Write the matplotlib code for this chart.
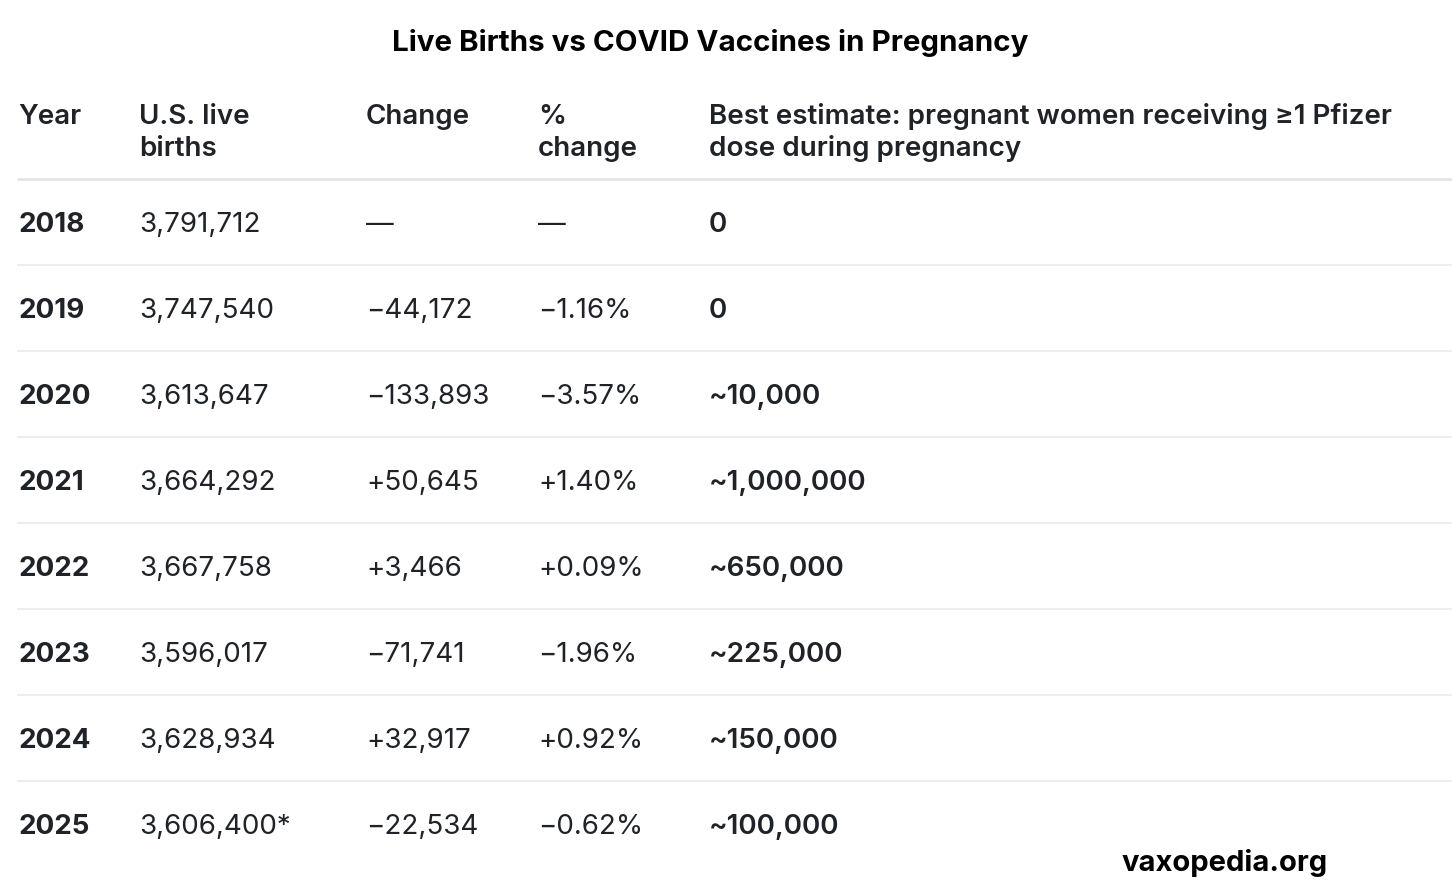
import matplotlib.pyplot as plt

years = ['2018', '2019', '2020', '2021', '2022', '2023', '2024', '2025']
births = ['3,791,712', '3,747,540', '3,613,647', '3,664,292', '3,667,758',
          '3,596,017', '3,628,934', '3,606,400*']
change = ['—', '−44,172', '−133,893', '+50,645', '+3,466', '−71,741',
          '+32,917', '−22,534']
pct_change = ['—', '−1.16%', '−3.57%', '+1.40%', '+0.09%', '−1.96%',
              '+0.92%', '−0.62%']
pfizer_est = ['0', '0', '~10,000', '~1,000,000', '~650,000', '~225,000',
              '~150,000', '~100,000']
headers = ['Year', 'U.S. live\nbirths', 'Change', '%\nchange',
           'Best estimate: pregnant women receiving ≥1 Pfizer\ndose during pregnancy']

plt.rcParams['font.family'] = ['Inter', 'DejaVu Sans']
txt = '#1f2328'

fig = plt.figure(figsize=(14.52, 8.90), dpi=100)
ax = fig.add_axes([0, 0, 1, 1])
ax.set_xlim(0, 1452)
ax.set_ylim(890, 0)
ax.axis('off')

col_x = [18, 139, 366, 538, 709]
fs = 20

ax.text(710, 43, 'Live Births vs COVID Vaccines in Pregnancy', ha='center',
        va='center', fontsize=21.3, fontweight='bold', color='black')

# header, two lines each
for x, h in zip(col_x, headers):
    for j, line in enumerate(h.split('\n')):
        ax.text(x, 117 + j * 32, line, ha='left', va='center', fontsize=fs,
                fontweight='semibold', color=txt)

ax.plot([18, 1452], [179, 179], color='#e3e3e3', lw=1.8)

row_y0, row_h = 225, 86
for i in range(len(years)):
    y = row_y0 + i * row_h
    ax.text(col_x[0], y, years[i], ha='left', va='center', fontsize=fs,
            fontweight='bold', color=txt)
    ax.text(col_x[1], y, births[i], ha='left', va='center', fontsize=fs, color=txt)
    ax.text(col_x[2], y, change[i], ha='left', va='center', fontsize=fs, color=txt)
    ax.text(col_x[3], y, pct_change[i], ha='left', va='center', fontsize=fs, color=txt)
    ax.text(col_x[4], y, pfizer_est[i], ha='left', va='center', fontsize=fs,
            fontweight='semibold', color=txt)
    if i < len(years) - 1:
        ax.plot([18, 1452], [y + 40, y + 40], color='#ededed', lw=1.5)

ax.text(1225, 863, 'vaxopedia.org', ha='center', va='center', fontsize=21,
        fontweight='bold', color='black')

fig.savefig('out.png', dpi=100)
